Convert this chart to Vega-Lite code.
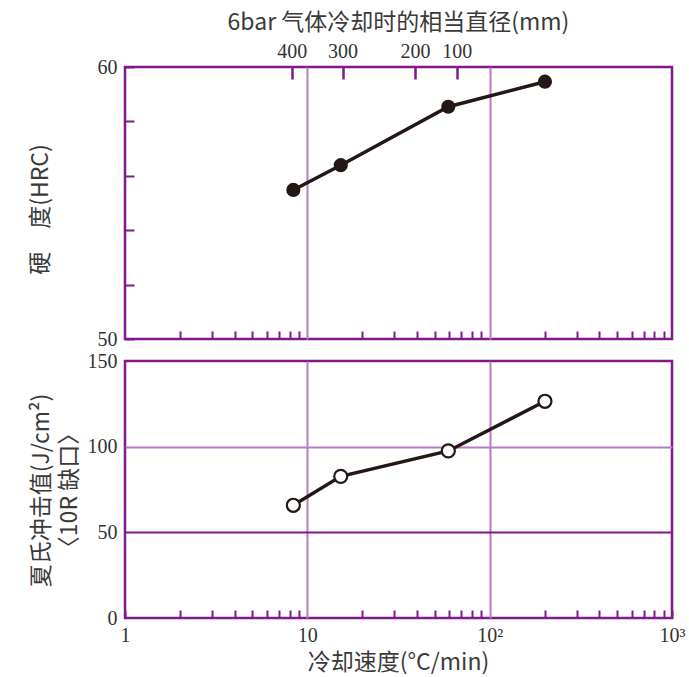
{
  "$schema": "https://vega.github.io/schema/vega-lite/v6.json",
  "autosize": {"type": "none"},
  "padding": {"left": 125, "top": 67, "right": 564, "bottom": 610},
  "background": "white",
  "bounds": "flush",
  "config": {
    "view": {"stroke": "#80198a", "strokeWidth": 2.5},
    "axis": {
      "domain": false,
      "labelFont": "Liberation Serif",
      "labelFontSize": 20,
      "labelColor": "#333333",
      "titleFont": "Noto Sans CJK SC",
      "titleFontSize": 23,
      "titleFontWeight": "normal",
      "titleColor": "#3a3a3a",
      "tickColor": "#80198a",
      "tickWidth": 2,
      "gridWidth": 2,
      "labelFlush": false,
      "labelOverlap": false
    }
  },
  "spacing": 22,
  "vconcat": [
    {
      "width": 547,
      "height": 272,
      "data": {"values": [
        {"rate": 8.38, "hrc": 55.48},
        {"rate": 15.25, "hrc": 56.39},
        {"rate": 59.3, "hrc": 58.54},
        {"rate": 201, "hrc": 59.46}
      ]},
      "layer": [
        {
          "mark": {"type": "line", "color": "#231815", "strokeWidth": 3.5},
          "encoding": {
            "x": {"field": "rate", "type": "quantitative",
              "scale": {"type": "log", "domain": [1, 1000], "nice": false},
              "axis": {"orient": "bottom", "values": [2,3,4,5,6,7,8,9,10,20,30,40,50,60,70,80,90,100,200,300,400,500,600,700,800,900],
                "labels": false, "title": null, "tickSize": -8,
                "tickColor": {"condition": {"test": "datum.value == 10 || datum.value == 100", "value": "transparent"}, "value": "#80198a"},
                "grid": true,
                "gridColor": {"condition": {"test": "datum.value == 10 || datum.value == 100", "value": "#b57cc4"}, "value": "transparent"}}},
            "y": {"field": "hrc", "type": "quantitative",
              "scale": {"domain": [50, 60], "nice": false, "zero": false},
              "axis": {"values": [50,51,52,53,54,55,56,57,58,59,60], "tickSize": -9, "labelPadding": 17,
                "labelExpr": "datum.value % 5 == 0 ? datum.label : ''",
                "grid": true,
                "gridColor": {"condition": {"test": "datum.value == 55", "value": "#80198a"}, "value": "transparent"},
                "title": "硬　度(HRC)", "titleAngle": -90, "titleX": -85, "titleY": 142, "titleAlign": "center", "titleBaseline": "middle"}}
          }
        },
        {
          "mark": {"type": "point", "filled": true, "size": 200, "color": "#231815", "opacity": 1},
          "encoding": {
            "x": {"field": "rate", "type": "quantitative",
              "scale": {"type": "log", "domain": [1, 1000], "nice": false},
              "axis": {"orient": "top", "values": [8.21, 15.6, 39.0, 66.0], "tickSize": -12, "tickWidth": 2.5, "labelPadding": 18,
                "labelExpr": "datum.value < 10 ? '400' : datum.value < 20 ? '300' : datum.value < 50 ? '200' : '100'",
                "grid": false,
                "title": "6bar 气体冷却时的相当直径(mm)", "titleX": 273, "titleY": -45, "titleAlign": "center", "titleBaseline": "middle"}},
            "y": {"field": "hrc", "type": "quantitative"}
          }
        }
      ],
      "resolve": {"axis": {"x": "independent"}}
    },
    {
      "width": 547,
      "height": 257,
      "data": {"values": [
        {"rate": 8.38, "charpy": 65.8},
        {"rate": 15.25, "charpy": 82.7},
        {"rate": 59.3, "charpy": 97.5},
        {"rate": 201, "charpy": 126.5}
      ]},
      "layer": [
        {
          "mark": {"type": "line", "color": "#231815", "strokeWidth": 3.5},
          "encoding": {
            "x": {"field": "rate", "type": "quantitative",
              "scale": {"type": "log", "domain": [1, 1000], "nice": false},
              "axis": {"orient": "bottom", "values": [1,2,3,4,5,6,7,8,9,10,20,30,40,50,60,70,80,90,100,200,300,400,500,600,700,800,900,1000],
                "tickSize": -8, "labelPadding": 15,
                "labelExpr": "datum.value == 1 ? '1' : datum.value == 10 ? '10' : datum.value == 100 ? '10²' : datum.value == 1000 ? '10³' : ''",
                "tickColor": {"condition": {"test": "datum.value == 10 || datum.value == 100", "value": "transparent"}, "value": "#80198a"},
                "grid": true,
                "gridColor": {"condition": {"test": "datum.value == 10 || datum.value == 100", "value": "#b57cc4"}, "value": "transparent"},
                "title": "冷却速度(°C/min)", "titleX": 273, "titleY": 44, "titleAlign": "center", "titleBaseline": "middle"}},
            "y": {"field": "charpy", "type": "quantitative",
              "scale": {"domain": [0, 150], "nice": false},
              "axis": {"values": [0, 50, 100, 150], "ticks": false, "labelPadding": 8,
                "grid": true,
                "gridColor": {"condition": [{"test": "datum.value == 50", "value": "#80198a"}, {"test": "datum.value == 100", "value": "#b57cc4"}], "value": "transparent"},
                "title": ["夏氏冲击值(J/cm²)", "〈10R 缺口〉"], "titleLineHeight": 28, "titleAngle": -90, "titleX": -84, "titleY": 129, "titleAlign": "center", "titleBaseline": "middle"}}
          }
        },
        {
          "mark": {"type": "point", "filled": true, "size": 170, "fill": "white", "stroke": "#231815", "strokeWidth": 2.2, "opacity": 1},
          "encoding": {
            "x": {"field": "rate", "type": "quantitative"},
            "y": {"field": "charpy", "type": "quantitative"}
          }
        }
      ]
    }
  ]
}
